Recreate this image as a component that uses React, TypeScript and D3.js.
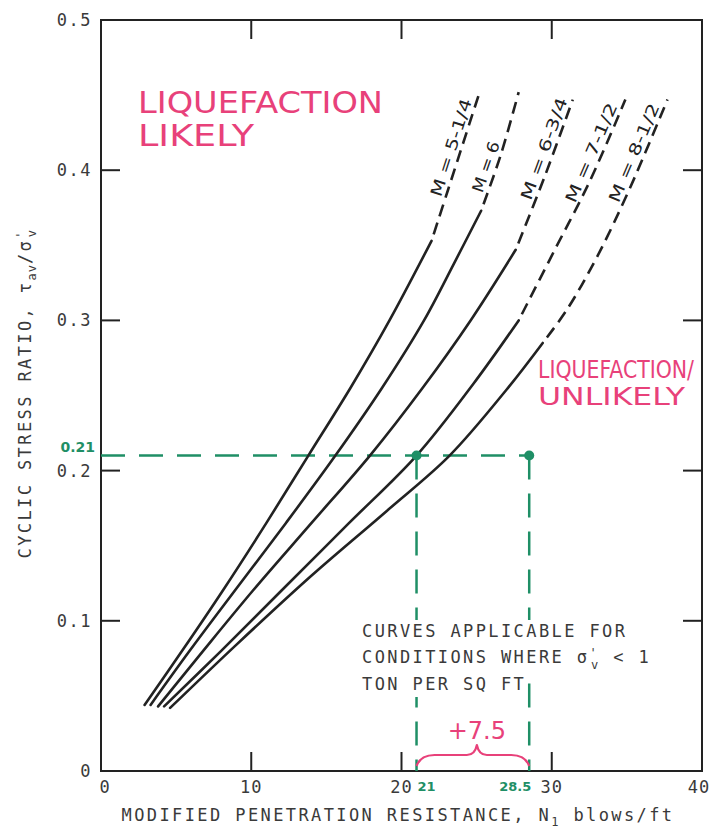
import React from "react";
import * as d3 from "d3";

type Pt = [number, number];

// ---------- data ----------
const xTickValues = [0, 10, 20, 30, 40];
const xTickLabels = ["0", "10", "20", "30", "40"];
const yTickValues = [0, 0.1, 0.2, 0.3, 0.4, 0.5];
const yTickLabels = ["0", "0.1", "0.2", "0.3", "0.4", "0.5"];

const magnitudeLabels = ["M = 5-1/4", "M = 6", "M = 6-3/4", "M = 7-1/2", "M = 8-1/2"];

// (N1, cyclic stress ratio) — solid part of each curve
const solidM525: Pt[] = [[2.9, 0.044], [5.4, 0.08], [8.1, 0.12], [11.0, 0.165], [13.8, 0.21], [16.6, 0.255], [19.2, 0.3], [22.0, 0.353]];
const solidM6: Pt[] = [[3.3, 0.044], [5.9, 0.08], [8.9, 0.12], [12.3, 0.165], [15.6, 0.21], [18.7, 0.255], [21.5, 0.3], [23.5, 0.338], [25.3, 0.373]];
const solidM675: Pt[] = [[3.8, 0.043], [6.8, 0.08], [10.1, 0.12], [14.0, 0.165], [17.9, 0.21], [21.4, 0.255], [24.6, 0.3], [27.6, 0.347]];
const solidM75: Pt[] = [[4.2, 0.043], [8.0, 0.08], [12.0, 0.12], [16.5, 0.165], [21.0, 0.21], [24.8, 0.258], [27.8, 0.3]];
const solidM85: Pt[] = [[4.6, 0.042], [9.0, 0.084], [14.0, 0.13], [19.0, 0.173], [23.2, 0.21], [27.0, 0.254], [29.4, 0.285]];

// dashed (extrapolated) part of each curve
const dashedM525: Pt[] = [[22.0, 0.353], [23.1, 0.387], [25.2, 0.452]];
const dashedM6: Pt[] = [[25.3, 0.373], [26.6, 0.41], [27.8, 0.452]];
const dashedM675: Pt[] = [[27.6, 0.347], [29.5, 0.395], [31.4, 0.447]];
const dashedM75: Pt[] = [[27.8, 0.3], [30.2, 0.347], [32.5, 0.392], [34.9, 0.447]];
const dashedM85: Pt[] = [[29.4, 0.285], [31.0, 0.307], [33.0, 0.342], [35.2, 0.388], [37.7, 0.447]];

const solidCurves = [solidM525, solidM6, solidM675, solidM75, solidM85];
const dashedCurves = [dashedM525, dashedM6, dashedM675, dashedM75, dashedM85];

const exampleCSR = 0.21;
const exampleCSRLabel = "0.21";
const exampleN = [21, 28.5];
const exampleNLabels = ["21", "28.5"];
const shiftLabel = "+7.5";

const likelyLines = ["LIQUEFACTION", "LIKELY"];
const unlikelyLines = ["LIQUEFACTION/", "UNLIKELY"];

// ---------- layout ----------
const W = 712;
const H = 834;
const LEFT = 101;
const RIGHT = 702;
const TOP = 20;
const BOTTOM = 771;
const labelCenterCSR = [0.413, 0.4, 0.412, 0.409, 0.409];
const labelLen = [102, 53, 108, 107, 106];

const ink = "#222";
const textInk = "#3a3a3a";
const pink = "#e8417a";
const green = "#1f8f66";
const mono = "'DejaVu Sans Mono', 'Liberation Mono', monospace";
const hand = "'DejaVu Sans', 'Noto Sans', sans-serif";

export default function App() {
  const x = d3.scaleLinear().domain([0, 40]).range([LEFT, RIGHT]);
  const y = d3.scaleLinear().domain([0, 0.5]).range([BOTTOM, TOP]);
  const line = d3
    .line<Pt>()
    .x((d) => x(d[0]))
    .y((d) => y(d[1]))
    .curve(d3.curveCatmullRom.alpha(0.5));

  // curve label placement along the dashed part
  const labels = dashedCurves.map((pts, i) => {
    const target = labelCenterCSR[i];
    let k = 0;
    while (k < pts.length - 2 && pts[k + 1][1] < target) k++;
    const a = pts[k];
    const b = pts[k + 1];
    const t = (target - a[1]) / (b[1] - a[1]);
    const px = x(a[0] + t * (b[0] - a[0]));
    const py = y(target);
    const dx = x(b[0]) - x(a[0]);
    const dy = y(b[1]) - y(a[1]);
    const th = Math.atan2(dy, dx);
    const off = 10;
    return {
      cx: px + off * Math.sin(th),
      cy: py - off * Math.cos(th),
      deg: (th * 180) / Math.PI,
    };
  });

  const yEx = y(exampleCSR);
  const x1 = x(exampleN[0]);
  const x2 = x(exampleN[1]);
  const xm = (x1 + x2) / 2 + 4;
  const braceEnd = BOTTOM - 5;
  const braceBody = BOTTOM - 16;
  const braceTip = BOTTOM - 26;
  const bracePath = `M${x1},${braceEnd} Q${x1 + 4},${braceBody} ${x1 + 18},${braceBody} L${xm - 10},${braceBody} Q${xm - 2},${braceBody} ${xm},${braceTip} Q${xm + 2},${braceBody} ${xm + 10},${braceBody} L${x2 - 18},${braceBody} Q${x2 - 4},${braceBody} ${x2},${braceEnd}`;

  const tickLen = 19;

  return (
    <svg
      width={W}
      height={H}
      viewBox={`0 0 ${W} ${H}`}
      style={{ position: "absolute", left: 0, top: 0, display: "block", background: "#fff" }}
    >
      <rect x={0} y={0} width={W} height={H} fill="#fff" />

      {/* frame */}
      <rect x={LEFT} y={TOP} width={RIGHT - LEFT} height={BOTTOM - TOP} fill="none" stroke={ink} strokeWidth={2} />

      {/* ticks */}
      {xTickValues.slice(1, -1).map((v) => (
        <g key={"xt" + v}>
          <line x1={x(v)} x2={x(v)} y1={BOTTOM} y2={BOTTOM - tickLen} stroke={ink} strokeWidth={2} />
          <line x1={x(v)} x2={x(v)} y1={TOP} y2={TOP + tickLen} stroke={ink} strokeWidth={2} />
        </g>
      ))}
      {yTickValues.slice(1, -1).map((v) => (
        <g key={"yt" + v}>
          <line x1={LEFT} x2={LEFT + tickLen} y1={y(v)} y2={y(v)} stroke={ink} strokeWidth={2} />
          <line x1={RIGHT} x2={RIGHT - tickLen} y1={y(v)} y2={y(v)} stroke={ink} strokeWidth={2} />
        </g>
      ))}

      {/* tick labels */}
      {yTickValues.map((v, i) => (
        <text
          key={"yl" + v}
          x={LEFT - 9}
          y={y(v)}
          textAnchor="end"
          dominantBaseline="central"
          fontFamily={mono}
          fontSize={17}
          letterSpacing={1.5}
          fill={textInk}
        >
          {yTickLabels[i]}
        </text>
      ))}
      {xTickValues.map((v, i) => (
        <text
          key={"xl" + v}
          x={x(v) + (i === 0 ? 4 : i === xTickValues.length - 1 ? -3 : 0)}
          y={BOTTOM + 16}
          textAnchor="middle"
          dominantBaseline="central"
          fontFamily={mono}
          fontSize={17}
          letterSpacing={1}
          fill={textInk}
        >
          {xTickLabels[i]}
        </text>
      ))}

      {/* axis titles */}
      <text x={398} y={821} textAnchor="middle" fontFamily={mono} fontSize={17} letterSpacing={2.4} fill={textInk}>
        MODIFIED PENETRATION RESISTANCE, N
        <tspan dy={5} fontSize={12}>1</tspan>
        <tspan dy={-5}> blows/ft</tspan>
      </text>
      <text
        transform={`translate(31,393) rotate(-90)`}
        textAnchor="middle"
        fontFamily={mono}
        fontSize={17}
        letterSpacing={2.4}
        fill={textInk}
      >
        CYCLIC STRESS RATIO, τ
        <tspan dy={5} fontSize={12} letterSpacing={1}>av</tspan>
        <tspan dy={-5}>/σ</tspan>
        <tspan dy={-6} fontSize={12}>'</tspan>
        <tspan dx={-8} dy={11} fontSize={12}>v</tspan>
      </text>

      {/* green worked example */}
      <g stroke={green} strokeWidth={2.5} fill="none" strokeDasharray="24 14">
        <line x1={LEFT} x2={x2} y1={yEx} y2={yEx} />
        <line x1={x1} x2={x1} y1={yEx} y2={BOTTOM} />
        <line x1={x2} x2={x2} y1={yEx} y2={BOTTOM} />
      </g>

      {/* note box (opaque, covers the dashed lines) */}
      <g>
        <rect x={356} y={620} width={292} height={50} fill="#fff" />
        <rect x={356} y={670} width={170} height={27} fill="#fff" />
        <text fontFamily={mono} fontSize={17} letterSpacing={2.4} fill={textInk}>
          <tspan x={362} y={637}>CURVES APPLICABLE FOR</tspan>
          <tspan x={362} y={663}>CONDITIONS WHERE σ</tspan>
          <tspan dy={-6} fontSize={12}>'</tspan>
          <tspan dx={-8} dy={12} fontSize={12}>v</tspan>
          <tspan dy={-6}> &lt; 1</tspan>
          <tspan x={362} y={690}>TON PER SQ FT</tspan>
        </text>
      </g>

      {/* curves */}
      {solidCurves.map((pts, i) => (
        <path key={"s" + i} d={line(pts) || ""} fill="none" stroke={ink} strokeWidth={2.6} strokeLinecap="round" />
      ))}
      {dashedCurves.map((pts, i) => (
        <path
          key={"d" + i}
          d={line(pts) || ""}
          fill="none"
          stroke={ink}
          strokeWidth={2.6}
          strokeDasharray="12 7"
          strokeDashoffset={-7}
        />
      ))}

      {/* curve labels */}
      {labels.map((l, i) => (
        <text
          key={"ml" + i}
          transform={`translate(${l.cx},${l.cy}) rotate(${l.deg})`}
          textAnchor="middle"
          dominantBaseline="central"
          fontFamily={hand}
          fontSize={16}
          textLength={labelLen[i]}
          lengthAdjust="spacingAndGlyphs"
          fill={ink}
        >
          {magnitudeLabels[i]}
        </text>
      ))}

      {/* green dots and labels */}
      {exampleN.map((n, i) => (
        <circle key={"dot" + i} cx={x(n)} cy={yEx} r={5} fill={green} />
      ))}
      <text x={LEFT - 6} y={yEx - 4} textAnchor="end" fontFamily={hand} fontSize={14} fill={green} fontWeight="bold">
        {exampleCSRLabel}
      </text>
      {exampleN.map((n, i) => (
        <text
          key={"nl" + i}
          x={x(n) + (i === 0 ? 10 : -14)}
          y={BOTTOM + 15}
          textAnchor="middle"
          dominantBaseline="central"
          fontFamily={hand}
          fontSize={13}
          fontWeight="bold"
          fill={green}
        >
          {exampleNLabels[i]}
        </text>
      ))}

      {/* pink brace */}
      <path d={bracePath} fill="none" stroke={pink} strokeWidth={2.2} strokeLinejoin="round" />
      <text x={xm} y={BOTTOM - 32} textAnchor="middle" fontFamily={hand} fontSize={24} fill={pink}>
        {shiftLabel}
      </text>

      {/* pink zone labels */}
      <text x={138} y={113} fontFamily={hand} fontSize={30} fill={pink} textLength={245} lengthAdjust="spacingAndGlyphs">
        {likelyLines[0]}
      </text>
      <text x={138} y={146} fontFamily={hand} fontSize={30} fill={pink} textLength={116} lengthAdjust="spacingAndGlyphs">
        {likelyLines[1]}
      </text>
      <text x={538} y={378} fontFamily={hand} fontSize={25} fill={pink} textLength={156} lengthAdjust="spacingAndGlyphs">
        {unlikelyLines[0]}
      </text>
      <text x={538} y={405} fontFamily={hand} fontSize={25} fill={pink} textLength={147} lengthAdjust="spacingAndGlyphs">
        {unlikelyLines[1]}
      </text>
    </svg>
  );
}
